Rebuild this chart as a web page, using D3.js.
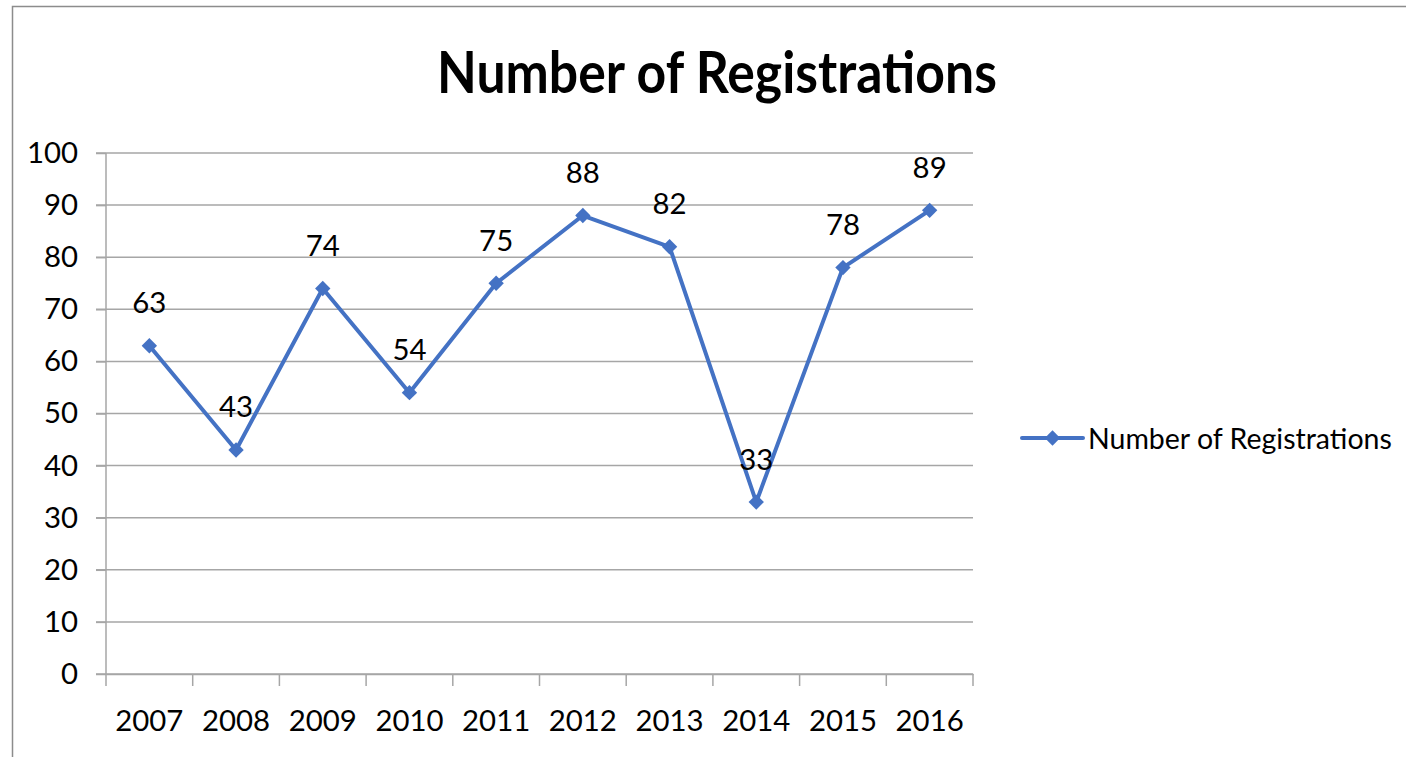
<!DOCTYPE html>
<html>
<head>
<meta charset="utf-8">
<script src="https://cdn.jsdelivr.net/npm/d3@7"></script>
<style>
  html, body { margin: 0; padding: 0; background: #fff; }
  svg { display: block; }
  text { font-family: Lato, "Open Sans", sans-serif; fill: #000; }
</style>
</head>
<body>
<svg id="chart" width="1406" height="757"></svg>
<script>
const title = "Number of Registrations";
const seriesName = "Number of Registrations";
const years = ["2007", "2008", "2009", "2010", "2011", "2012", "2013", "2014", "2015", "2016"];
const registrations = [63, 43, 74, 54, 75, 88, 82, 33, 78, 89];
const yTicks = [0, 10, 20, 30, 40, 50, 60, 70, 80, 90, 100];

const W = 1406, H = 757;
const margin = { left: 106, top: 153, right: W - 973, bottom: H - 674 };
const color = "#4472C4";
const gridColor = "#a6a6a6";

const svg = d3.select("#chart");

// outer chart border
svg.append("rect")
  .attr("x", 12.5).attr("y", 6.5)
  .attr("width", W).attr("height", H)
  .attr("fill", "none").attr("stroke", "#8c8c8c").attr("stroke-width", 1.5);

const x = d3.scaleBand().domain(years).range([margin.left, W - margin.right]);
const y = d3.scaleLinear().domain([0, 100]).range([H - margin.bottom, margin.top]);

function fitSize(sel, targetW) {
  const w = sel.node().getComputedTextLength();
  const fs = parseFloat(sel.attr("font-size"));
  return fs * targetW / w;
}

const probe = svg.append("text").attr("font-size", 26).text(seriesName);
const baseFS = fitSize(probe, 304);
probe.remove();
const numFS = baseFS * 1.03;

// gridlines
svg.append("g")
  .selectAll("line")
  .data(yTicks)
  .join("line")
  .attr("x1", margin.left - 10).attr("x2", W - margin.right)
  .attr("y1", d => y(d)).attr("y2", d => y(d))
  .attr("stroke", gridColor).attr("stroke-width", 1.5);

// y axis
const yAxis = svg.append("g")
  .attr("transform", `translate(${margin.left},0)`)
  .call(d3.axisLeft(y).tickValues(yTicks).tickSize(10).tickPadding(18));
yAxis.select(".domain").attr("stroke", gridColor).attr("stroke-width", 1.5)
  .attr("d", `M0,${y(100)}V${y(0)}`);
yAxis.selectAll(".tick line").attr("stroke", gridColor).attr("stroke-width", 1.5);
yAxis.selectAll(".tick text")
  .attr("font-size", numFS)
  .attr("font-family", "Lato, 'Open Sans', sans-serif")
  .attr("fill", "#000");

// x axis
const xAxis = svg.append("g")
  .attr("transform", `translate(0,${y(0)})`)
  .call(d3.axisBottom(x).tickSize(0).tickPadding(36));
xAxis.select(".domain").attr("stroke", gridColor).attr("stroke-width", 1.5);
xAxis.selectAll(".tick text")
  .attr("font-size", numFS)
  .attr("font-family", "Lato, 'Open Sans', sans-serif")
  .attr("fill", "#000");
const bounds = years.map(d => x(d)).concat([x(years[years.length - 1]) + x.bandwidth()]);
xAxis.append("g").selectAll("line")
  .data(bounds)
  .join("line")
  .attr("x1", d => d).attr("x2", d => d)
  .attr("y1", 0).attr("y2", 12)
  .attr("stroke", gridColor).attr("stroke-width", 1.5);

// line
const cx = d => x(d) + x.bandwidth() / 2;
const line = d3.line()
  .x((d, i) => cx(years[i]))
  .y(d => y(d));
svg.append("path")
  .datum(registrations)
  .attr("d", line)
  .attr("fill", "none")
  .attr("stroke", color)
  .attr("stroke-width", 4)
  .attr("stroke-linejoin", "round");

// markers (square diamonds)
const marker = d3.symbol().type(d3.symbolSquare).size(118);
svg.append("g").selectAll("path")
  .data(registrations)
  .join("path")
  .attr("d", marker)
  .attr("transform", (d, i) => `translate(${cx(years[i])},${y(d)}) rotate(45)`)
  .attr("fill", color);

// data labels
svg.append("g").selectAll("text")
  .data(registrations)
  .join("text")
  .attr("x", (d, i) => cx(years[i]))
  .attr("y", d => y(d) - 44)
  .attr("text-anchor", "middle")
  .attr("dominant-baseline", "central")
  .attr("font-size", numFS)
  .text(d => d);

// title
const t = svg.append("text")
  .attr("font-size", 50)
  .attr("font-weight", "bold")
  .attr("text-anchor", "middle")
  .attr("x", 0)
  .attr("y", 0)
  .text(title);
t.attr("font-size", fitSize(t, 560));
t.attr("transform", `translate(${(437 + 997) / 2},93) scale(1,1.12)`);

// legend
const lg = svg.append("g").attr("transform", "translate(1022,438)");
lg.append("line").attr("x1", 0).attr("x2", 61).attr("y1", 0).attr("y2", 0)
  .attr("stroke", color).attr("stroke-width", 4).attr("stroke-linecap", "round");
lg.append("path").attr("d", marker).attr("transform", "translate(30.5,0) rotate(45)").attr("fill", color);
lg.append("text").attr("x", 66).attr("y", 0)
  .attr("dominant-baseline", "central")
  .attr("font-size", baseFS)
  .text(seriesName);
</script>
</body>
</html>
